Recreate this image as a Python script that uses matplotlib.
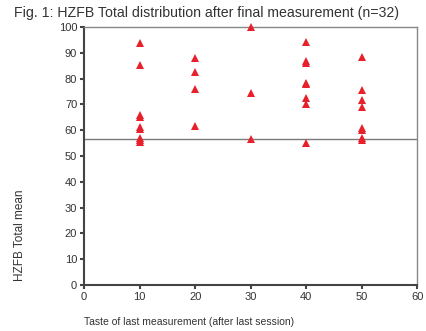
import matplotlib
matplotlib.use("Agg")
from matplotlib import pyplot as plt

# taste group of last measurement and HZFB total mean per person
taste = [10]*9 + [20]*4 + [30]*3 + [40]*8 + [50]*8
hzfb = [93.8, 85.5, 65.9, 65.2, 61.1, 60.4, 57.2, 56.2, 55.4,
        88.1, 82.5, 76.1, 61.6,
        100.0, 74.6, 56.5,
        94.2, 86.8, 86.2, 78.3, 78.0, 72.5, 70.3, 54.9,
        88.5, 75.7, 71.7, 69.1, 60.7, 60.0, 56.9, 56.2]
overall_mean = 56.6

xticks = [0, 10, 20, 30, 40, 50, 60]
yticks = [0, 10, 20, 30, 40, 50, 60, 70, 80, 90, 100]

plt.rcParams['font.family'] = ['Liberation Sans', 'DejaVu Sans']

fig = plt.figure(figsize=(4.27, 3.31), dpi=100)
ax = fig.add_axes([0.197, 0.139, 0.78, 0.779])

ax.axhline(overall_mean, color='#7a7a7a', lw=1.0, zorder=1)
ax.plot(taste, hzfb, '^', color='#e8202a', markersize=6, markeredgewidth=0, zorder=3, clip_on=False)

ax.set_xlim(0, 60)
ax.set_ylim(0, 100)
ax.set_xticks(xticks)
ax.set_yticks(yticks)
ax.tick_params(length=3, width=1.5, color='#444444', labelsize=8, labelcolor='#333333', pad=2)

for side in ['left', 'bottom']:
    ax.spines[side].set_color('#444444')
    ax.spines[side].set_linewidth(1.5)
for side in ['top', 'right']:
    ax.spines[side].set_color('#888888')
    ax.spines[side].set_linewidth(1.0)

fig.text(0.033, 0.96, 'Fig. 1: HZFB Total distribution after final measurement (n=32)',
         fontsize=10.2, color='#333333', ha='left', va='center')
fig.text(0.197, 0.027, 'Taste of last measurement (after last session)',
         fontsize=7.5, color='#333333', ha='left', va='center')
fig.text(0.047, 0.29, 'HZFB Total mean', fontsize=8.5, color='#333333',
         rotation=90, ha='center', va='center',
         family=['Liberation Sans Narrow', 'Liberation Sans', 'DejaVu Sans'])

fig.savefig('out.png', dpi=100)
